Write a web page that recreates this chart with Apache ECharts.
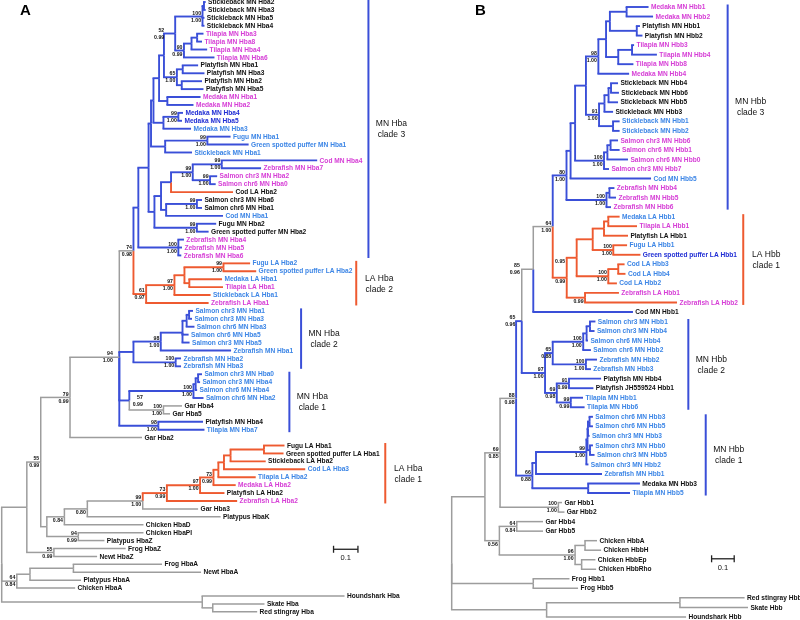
<!DOCTYPE html>
<html><head><meta charset="utf-8">
<script src="https://cdn.jsdelivr.net/npm/echarts/dist/echarts.min.js"></script>
<style>html,body{margin:0;padding:0;background:#fff}#c{width:800px;height:620px}</style>
</head><body><div id="c"></div>
<script>
// ---------- DATA ----------
// Trees in Newick-like form: name:depth (cumulative distance from root), internal labels = bootstrap/posterior, [MN]/[LA]/[OUT] = clade type
const treeA = `(
(
(
(
(
(
(
(
(
(
(
(
(
((Stickleback MN Hba2:0.836,Stickleback MN Hba3:0.836):0.829,Stickleback MN Hba5:0.831,Stickleback MN Hba4:0.831)100/1.00:0.823,
(((Tilapia MN Hba3:0.827,Tilapia MN Hba8:0.821):0.801,Tilapia MN Hba4:0.842):0.778,Tilapia MN Hba6:0.872)90/0.99:0.747
)52/0.99:0.711,
((Platyfish MN Hba1:0.805,Platyfish MN Hba3:0.831):0.742,(Platyfish MN Hba2:0.821,Platyfish MN Hba5:0.827):0.738)65/1.00:0.718
):0.665,
(Medaka MN Hba1:0.815,Medaka MN Hba2:0.786):0.679
):0.645,
((Medaka MN Hba4:0.743,Medaka MN Hba5:0.739)99/1.00:0.724,Medaka MN Hba3:0.776):0.663
):0.622,
((Fugu MN Hba1:0.938,Green spotted puffer MN Hba1:1.012)99/1.00:0.843,Stickleback MN Hba1:0.780):0.670
):0.612,
(
(
(
((Cod MN Hba4:1.293,Zebrafish MN Hba7:1.063)99/1.00:0.902,(Salmon chr3 MN Hba2:0.883,Salmon chr6 MN Hba0:0.877)99/1.00:0.854)99/1.00:0.783,
Cod LA Hba2[LA]:0.948
):0.694,
((Salmon chr3 MN Hba6:0.821,Salmon chr6 MN Hba1:0.821)99/1.00:0.800,Cod MN Hba1:0.907):0.674
):0.653,
(Fugu MN Hba2:0.879,Green spotted puffer MN Hba2:0.848)99/1.00:0.800
):0.626
):0.602,
(Zebrafish MN Hba4:0.747,Zebrafish MN Hba5:0.739,Zebrafish MN Hba6:0.736)100/1.00:0.724
)[MN]:0.560,
(
(
((Fugu LA Hba2:1.018,Green spotted puffer LA Hba2:1.043)99/1.00:0.909,(Medaka LA Hba1:0.903,Tilapia LA Hba1:0.907):0.769):0.749,
Stickleback LA Hba1:0.856
)97/1.00:0.708,
Zebrafish LA Hba1:0.848
)61/0.97[LA]:0.592
)74/0.98:0.540,
(
((((Salmon chr3 MN Hba1:0.784,Salmon chr3 MN Hba3:0.780):0.768,Salmon chr6 MN Hba3:0.790):0.758,Salmon chr6 MN Hba5:0.766,Salmon chr3 MN Hba5:0.770):0.741,Zebrafish MN Hba1:0.940)98/1.00:0.652,
(Zebrafish MN Hba2:0.735,Zebrafish MN Hba3:0.735)100/1.00:0.713
)[MN]:0.540,
(
(((Salmon chr3 MN Hba0:0.821,Salmon chr3 MN Hba4:0.813):0.805,Salmon chr6 MN Hba4:0.801):0.795,Salmon chr6 MN Hba2:0.827)100/1.00:0.786,
(Gar Hba4:0.739,Gar Hba5:0.690)100/1.00[OUT]:0.663
)57/0.99[MN]:0.523,
(Platyfish MN Hba4:0.825,Tilapia MN Hba7:0.831)98/1.00[MN]:0.642
)94/1.00:0.482,
Gar Hba2:0.575
)79/0.99:0.280,
(
(
(
(
(
(
(
(
(
((Fugu LA Hba1:1.159,Green spotted puffer LA Hba1:1.155):1.075,Stickleback LA Hba2:1.082):0.938,
Cod LA Hba3:1.244
):0.911,
Tilapia LA Hba2:1.041
):0.888,
Medaka LA Hba2:0.959
)73/0.99:0.868,
Platyfish LA Hba2:0.913
)97/1.00:0.813,
Zebrafish LA Hba2:0.965
)73/0.99[LA]:0.677,
Gar Hba3:0.805
)99/1.00:0.578,
Platypus HbaK:0.897
)0.80:0.351,
Chicken HbaD:0.581
)0.84:0.257,
(Chicken HbaPI:0.581,Platypus HbaZ:0.421)94/0.99:0.314
):0.185
)55/0.99:0.160,
(Frog HbaZ:0.508,Newt HbaZ:0.391)55/0.99:0.214
):0.103,
(((Frog HbaA:0.657,Newt HbaA:0.817):0.294,Platypus HbaA:0.325):0.116,Chicken HbaA:0.301)64/0.84:0.062,
(Houndshark Hba:1.405,(Skate Hba:1.077,Red stingray Hba:1.047):0.865):0.822
):0;`;

const treeB = `(
(
(
(
(
(
(
(
(
(
(
(
(
((Medaka MN Hbb1:0.871,Medaka MN Hbb2:0.891):0.774,(Platyfish MN Hbb1:0.833,Platyfish MN Hbb2:0.844):0.819):0.700,
((Tilapia MN Hbb3:0.807,Tilapia MN Hbb4:0.908):0.798,Tilapia MN Hbb8:0.804):0.737
):0.683,
Medaka MN Hbb4:0.785
)98/1.00:0.649,
((((Stickleback MN Hbb4:0.736,Stickleback MN Hbb6:0.740):0.705,Stickleback MN Hbb5:0.736):0.694,Stickleback MN Hbb3:0.714):0.676,(Stickleback MN Hbb1:0.743,Stickleback MN Hbb2:0.743):0.714)91/1.00:0.652
):0.594,
(((Salmon chr3 MN Hbb6:0.736,Salmon chr6 MN Hbb1:0.743):0.703,Salmon chr6 MN Hbb0:0.780):0.689,Salmon chr3 MN Hbb7:0.696)100/1.00:0.674
):0.546,
Cod MN Hbb5:0.882
):0.526,
((Zebrafish MN Hbb4:0.720,Zebrafish MN Hbb5:0.727):0.698,Zebrafish MN Hbb6:0.705)100/1.00:0.685
)80/1.00[MN]:0.508,
(
(
(((Medaka LA Hbb1:0.743,Tilapia LA Hbb1:0.820):0.693,Platyfish LA Hbb1:0.780):0.674,(Fugu LA Hbb1:0.776,Green spotted puffer LA Hbb1:0.835)100/1.00:0.715):0.624,
((Cod LA Hbb3:0.765,Cod LA Hbb4:0.769):0.737,Cod LA Hbb2:0.731)100/1.00:0.693
)0.95:0.553,
(Zebrafish LA Hbb1:0.740,Zebrafish LA Hbb2:0.997)0.99:0.590
)0.99[LA]:0.509
)64/1.00:0.447,
Cod MN Hbb1[MN]:0.802
)85/0.96[OUT]:0.361,
(
(
(((Salmon chr3 MN Hbb1:0.636,Salmon chr3 MN Hbb4:0.632):0.612,Salmon chr6 MN Hbb4:0.603):0.597,Salmon chr6 MN Hbb2:0.616)100/1.00:0.582,
(Zebrafish MN Hbb2:0.643,Zebrafish MN Hbb3:0.616)100/1.00:0.594
)65/0.88:0.447,
(
(Platyfish MN Hbb4:0.661,Platyfish JH559524 Hbb1:0.627)91/0.99:0.519,
(Tilapia MN Hbb1:0.581,Tilapia MN Hbb6:0.588)99/0.99:0.527
)69/0.98:0.465
)97/1.00:0.413
)65/0.96[MN]:0.310,
(
(
((((Salmon chr6 MN Hbb3:0.625,Salmon chr6 MN Hbb5:0.625):0.610,Salmon chr3 MN Hbb3:0.610):0.603,(Salmon chr3 MN Hbb0:0.625,Salmon chr3 MN Hbb5:0.632):0.612):0.601,Salmon chr3 MN Hbb2:0.605)99/1.00:0.596,
Zebrafish MN Hbb1:0.665
):0.373,
(Medaka MN Hbb3:0.833,Tilapia MN Hbb5:0.789):0.604
)66/0.88[MN]:0.357
)88/0.98:0.285,
(Gar Hbb1:0.488,Gar Hbb2:0.499)100/1.00:0.472
)69/0.85:0.214,
(
(Gar Hbb4:0.404,Gar Hbb5:0.404)64/0.84:0.288,
((Chicken HbbA:0.643,Chicken HbbH:0.661):0.590,(Chicken HbbEp:0.636,Chicken HbbRho:0.639):0.575)96/1.00:0.546
)0.56:0.211
):0.147,
(Frog Hbb1:0.521,Frog Hbb5:0.559):0.361,
((Red stingray Hbb:1.296,Skate Hbb:1.311):1.010,Houndshark Hbb:1.037):0.420
):0;`;

const magentaLeaves = ["Tilapia MN Hba3","Tilapia MN Hba8","Tilapia MN Hba4","Tilapia MN Hba6","Medaka MN Hba1","Medaka MN Hba2",
  "Cod MN Hba4","Zebrafish MN Hba7","Salmon chr3 MN Hba2","Salmon chr6 MN Hba0","Zebrafish MN Hba4","Zebrafish MN Hba5","Zebrafish MN Hba6",
  "Tilapia LA Hba1","Zebrafish LA Hba1","Medaka LA Hba2","Zebrafish LA Hba2",
  "Medaka MN Hbb1","Medaka MN Hbb2","Tilapia MN Hbb3","Tilapia MN Hbb4","Tilapia MN Hbb8","Medaka MN Hbb4","Salmon chr3 MN Hbb6",
  "Salmon chr6 MN Hbb1","Salmon chr6 MN Hbb0","Salmon chr3 MN Hbb7","Zebrafish MN Hbb4","Zebrafish MN Hbb5","Zebrafish MN Hbb6",
  "Tilapia LA Hbb1","Zebrafish LA Hbb1","Zebrafish LA Hbb2"];
const lightBlueLeaves = ["Medaka MN Hba3","Fugu MN Hba1","Green spotted puffer MN Hba1","Stickleback MN Hba1","Cod MN Hba1","Fugu LA Hba2",
  "Green spotted puffer LA Hba2","Medaka LA Hba1","Stickleback LA Hba1","Salmon chr3 MN Hba1","Salmon chr3 MN Hba3","Salmon chr6 MN Hba3",
  "Salmon chr6 MN Hba5","Salmon chr3 MN Hba5","Zebrafish MN Hba1","Zebrafish MN Hba2","Zebrafish MN Hba3","Salmon chr3 MN Hba0",
  "Salmon chr3 MN Hba4","Salmon chr6 MN Hba4","Salmon chr6 MN Hba2","Tilapia MN Hba7","Cod LA Hba3","Tilapia LA Hba2",
  "Stickleback MN Hbb1","Stickleback MN Hbb2","Cod MN Hbb5","Medaka LA Hbb1","Fugu LA Hbb1","Cod LA Hbb3","Cod LA Hbb4","Cod LA Hbb2",
  "Salmon chr3 MN Hbb1","Salmon chr3 MN Hbb4","Salmon chr6 MN Hbb4","Salmon chr6 MN Hbb2","Zebrafish MN Hbb2","Zebrafish MN Hbb3",
  "Tilapia MN Hbb1","Tilapia MN Hbb6","Salmon chr6 MN Hbb3","Salmon chr6 MN Hbb5","Salmon chr3 MN Hbb3","Salmon chr3 MN Hbb0",
  "Salmon chr3 MN Hbb5","Salmon chr3 MN Hbb2","Zebrafish MN Hbb1","Tilapia MN Hbb5"];
const darkBlueLeaves = ["Medaka MN Hba4","Medaka MN Hba5","Green spotted puffer LA Hbb1"];

// clade brackets: [line1, line2, first leaf row, last leaf row, depth of bracket, type]
const cladesA = [["MN Hba","clade 3",0,32,1.503,"MN"],["LA Hba","clade 2",33,38,1.453,"LA"],
  ["MN Hba","clade 2",39,46,1.227,"MN"],["MN Hba","clade 1",47,54,1.179,"MN"],["LA Hba","clade 1",56,63,1.572,"LA"]];
const cladesB = [["MN Hbb","clade 3",0,21,1.221,"MN"],["LA Hbb","clade 1",22,31,1.290,"LA"],
  ["MN Hbb","clade 2",33,42,1.047,"MN"],["MN Hbb","clade 1",43,51,1.124,"MN"]];
// scale bar: [start depth, length, row]
const scaleA = [1.36, 0.1, 69.1];
const scaleB = [1.15, 0.1, 57.9];
const panelLetters = ["A","B"];

// ---------- STYLE ----------
const BRANCH = {MN:'#3a4fd8', LA:'#ee5a30', OUT:'#9d9d9d'};
const BRANCH_W = {MN:1.9, LA:1.9, OUT:1.5};
const TXT = {black:'#111111', magenta:'#d63ed6', light:'#3d86e6', dark:'#1f2dd4'};
const FONT = '"Liberation Sans", Arial, Helvetica, sans-serif';
// horizontal nudges (px) for a few support labels that sit away from their node in the original figure
const supportNudge = [{"52/0.99":-9.5,"57/0.99":15,"94/1.00":-5}, {"85/0.96":-12,"0.95":-10,"65/0.96":-5}];

function parseTree(src){
  const s = src.replace(/\s*\n\s*/g,'');
  let i = 0;
  function node(){
    const n = {children:[]};
    if (s[i] === '('){
      i++;
      n.children.push(node());
      while (s[i] === ','){ i++; n.children.push(node()); }
      if (s[i] !== ')') throw new Error('parse error at '+i+': '+s.slice(i,i+30));
      i++;
    }
    let lab = '';
    while (i < s.length && !':,);'.includes(s[i])) lab += s[i++];
    if (s[i] === ':'){ i++; let num=''; while (i < s.length && /[0-9.\-]/.test(s[i])) num += s[i++]; n.depth = parseFloat(num); }
    const m = lab.match(/\[(\w+)\]/);
    if (m){ n.tag = m[1]; lab = lab.replace(m[0],''); }
    lab = lab.trim();
    if (n.children.length) n.support = lab; else n.name = lab;
    return n;
  }
  const root = node();
  if (root.depth === undefined) root.depth = 0;
  return root;
}

function buildPanel(src){
  const root = parseTree(src);
  let row = 0;
  const leaves = [], internals = [], links = [];
  (function walk(n, tag, parent){
    n.tag = n.tag || tag;
    if (!n.children.length){ n.y = row++; leaves.push(n); }
    else {
      n.children.forEach(c => walk(c, n.tag, n));
      n.y = n.children.reduce((a,c)=>a+c.y,0)/n.children.length;
      internals.push(n);
    }
    if (parent) links.push([parent, n]);
  })(root, 'OUT', null);
  const segs = links.map(([p, n]) => ({px:p.depth, py:p.y, x:n.depth, y:n.y, tag:n.tag}));
  return {leaves, internals, segs, nRows: row};
}

function leafColor(name){
  if (magentaLeaves.includes(name)) return TXT.magenta;
  if (darkBlueLeaves.includes(name)) return TXT.dark;
  if (lightBlueLeaves.includes(name)) return TXT.light;
  return TXT.black;
}

const panels = [
  {P: buildPanel(treeA), clades: cladesA, scale: scaleA, grid:{left:1.7, top:2, width:390.4, height:609.84}, xMax:1.6},
  {P: buildPanel(treeB), clades: cladesB, scale: scaleB, grid:{left:451.7, top:7, width:339, height:609.92}, xMax:1.5}
];

const grids = [], xAxes = [], yAxes = [], series = [];
panels.forEach((pn, k) => {
  const P = pn.P;
  grids.push(Object.assign({containLabel:false}, pn.grid));
  xAxes.push({type:'value', gridIndex:k, min:0, max:pn.xMax, show:false});
  yAxes.push({type:'value', gridIndex:k, min:0, max:P.nRows-1, inverse:true, show:false});
  const base = {type:'custom', coordinateSystem:'cartesian2d', xAxisIndex:k, yAxisIndex:k, silent:true, animation:false, clip:false};
  // branches
  series.push(Object.assign({}, base, {
    data: P.segs.map(s => [s.x, s.y]),
    renderItem(params, api){
      const s = P.segs[params.dataIndex];
      const a = api.coord([s.px, s.py]);
      const b = api.coord([s.x, s.y]);
      const w = BRANCH_W[s.tag];
      const st = {stroke:BRANCH[s.tag], lineWidth:w};
      return {type:'group', children:[
        {type:'line', shape:{x1:a[0], y1:a[1], x2:a[0], y2:b[1]}, style:st},
        {type:'line', shape:{x1:a[0]-w/2, y1:b[1], x2:b[0], y2:b[1]}, style:st}
      ]};
    }
  }));
  // leaf labels
  series.push(Object.assign({}, base, {
    data: P.leaves.map(n => [n.depth, n.y]),
    renderItem(params, api){
      const n = P.leaves[params.dataIndex];
      const p = api.coord([n.depth, n.y]);
      return {type:'text', x:p[0]+2.4, y:p[1]+0.3,
        style:{text:n.name, fill:leafColor(n.name), font:'bold 6.6px '+FONT, align:'left', verticalAlign:'middle'}};
    }
  }));
  // support values
  const sup = P.internals.filter(n => n.support);
  const nudge = supportNudge[k];
  series.push(Object.assign({}, base, {
    data: sup.map(n => [n.depth, n.y]),
    renderItem(params, api){
      const n = sup[params.dataIndex];
      const p = api.coord([n.depth, n.y]);
      const x = p[0] - 1.5 + (nudge[n.support] || 0);
      const parts = n.support.split('/');
      const ch = [];
      const f = 'bold 5.2px '+FONT;
      if (parts.length === 2){
        ch.push({type:'text', x:x, y:p[1]-0.8, style:{text:parts[0], fill:'#111', font:f, align:'right', verticalAlign:'bottom'}});
        ch.push({type:'text', x:x, y:p[1]+1.2, style:{text:parts[1], fill:'#111', font:f, align:'right', verticalAlign:'top'}});
      } else {
        ch.push({type:'text', x:x, y:p[1]+1.2, style:{text:parts[0], fill:'#111', font:f, align:'right', verticalAlign:'top'}});
      }
      return {type:'group', children:ch};
    }
  }));
  // clade brackets
  series.push(Object.assign({}, base, {
    data: pn.clades.map(c => [c[4], (c[2]+c[3])/2]),
    renderItem(params, api){
      const c = pn.clades[params.dataIndex];
      const a = api.coord([c[4], c[2]]), b = api.coord([c[4], c[3]]);
      const cy = (a[1]+b[1])/2, cx = a[0]+23;
      return {type:'group', children:[
        {type:'line', shape:{x1:a[0], y1:a[1]-2.5, x2:a[0], y2:b[1]+2.5}, style:{stroke:BRANCH[c[5]], lineWidth:2}},
        {type:'text', x:cx, y:cy-5, style:{text:c[0], fill:'#111', font:'8.5px '+FONT, align:'center', verticalAlign:'middle'}},
        {type:'text', x:cx, y:cy+6, style:{text:c[1], fill:'#111', font:'8.5px '+FONT, align:'center', verticalAlign:'middle'}}
      ]};
    }
  }));
  // scale bar
  series.push(Object.assign({}, base, {
    data: [[pn.scale[0], pn.scale[2]]],
    renderItem(params, api){
      const s = pn.scale;
      const a = api.coord([s[0], s[2]]), b = api.coord([s[0]+s[1], s[2]]);
      const st = {stroke:'#222', lineWidth:1.3};
      return {type:'group', children:[
        {type:'line', shape:{x1:a[0], y1:a[1], x2:b[0], y2:b[1]}, style:st},
        {type:'line', shape:{x1:a[0], y1:a[1]-3.5, x2:a[0], y2:a[1]+3.5}, style:st},
        {type:'line', shape:{x1:b[0], y1:b[1]-3.5, x2:b[0], y2:b[1]+3.5}, style:st},
        {type:'text', x:(a[0]+b[0])/2, y:a[1]+9, style:{text:String(s[1]), fill:'#111', font:'7.5px '+FONT, align:'center', verticalAlign:'middle'}}
      ]};
    }
  }));
});

const chart = echarts.init(document.getElementById('c'), null, {renderer:'canvas', width:800, height:620});
chart.setOption({
  animation:false,
  backgroundColor:'#ffffff',
  grid: grids, xAxis: xAxes, yAxis: yAxes, series: series,
  graphic: [
    {type:'text', left:20, top:3, style:{text:panelLetters[0], font:'bold 15px '+FONT, fill:'#000'}},
    {type:'text', left:475, top:3, style:{text:panelLetters[1], font:'bold 15px '+FONT, fill:'#000'}}
  ]
});
</script></body></html>
